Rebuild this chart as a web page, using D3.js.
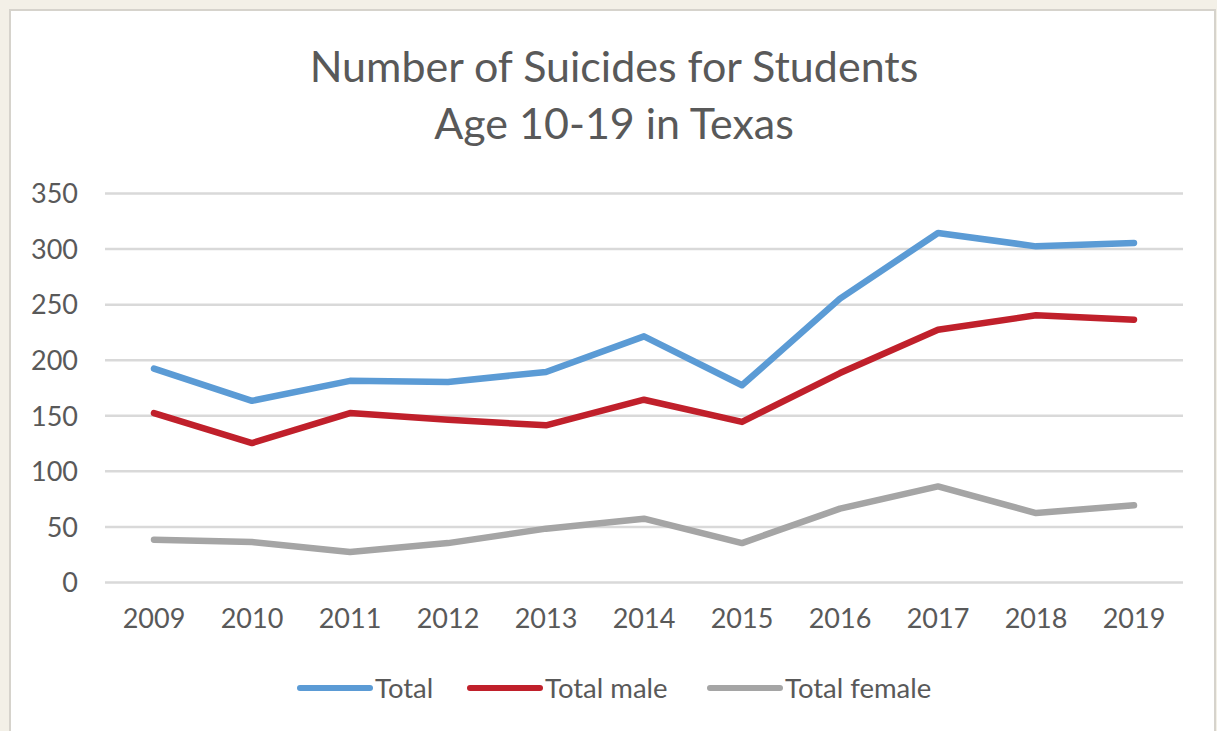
<!DOCTYPE html>
<html>
<head>
<meta charset="utf-8">
<script src="https://cdn.jsdelivr.net/npm/d3@7"></script>
<style>
  body { margin: 0; background: #f3f0e7; }
  svg { display: block; }
  .grid line { stroke: #d9d9d9; stroke-width: 2.5; }
  .grid path { display: none; }
  .axis path, .axis line { display: none; }
  .axis text { font-family: Lato, sans-serif; font-size: 27px; fill: #595959; }
  .line { fill: none; stroke-width: 6.5; stroke-linejoin: round; stroke-linecap: round; }
</style>
</head>
<body>
<div id="chart"></div>
<script>
var years = ["2009", "2010", "2011", "2012", "2013", "2014", "2015", "2016", "2017", "2018", "2019"];
var totalVals = [192, 163, 181, 180, 189, 221, 177, 255, 314, 302, 305];
var maleVals = [152, 125, 152, 146, 141, 164, 144, 188, 227, 240, 236];
var femaleVals = [38, 36, 27, 35, 48, 57, 35, 66, 86, 62, 69];
var yTicks = [0, 50, 100, 150, 200, 250, 300, 350];
var seriesNames = ["Total", "Total male", "Total female"];
var seriesColors = ["#5b9bd5", "#c0202b", "#a5a5a5"];

var drawChart = function() {
  var W = 1217, H = 731;
  var margin = { top: 193, right: 34, bottom: 149, left: 105 },
  width = W - margin.left - margin.right,
  height = H - margin.top - margin.bottom;

  var svg = d3.select("#chart").append("svg")
    .attr("width", W)
    .attr("height", H);

  // white chart panel on the beige page
  svg.append("rect")
    .attr("x", 10).attr("y", 10)
    .attr("width", 1205).attr("height", 730)
    .attr("fill", "#ffffff")
    .attr("stroke", "#d6d3cc")
    .attr("stroke-width", 2);

  var g = svg.append("g")
    .attr("transform", "translate(" + margin.left + "," + margin.top + ")");

  var x = d3.scaleBand()
    .domain(years)
    .range([0, width]);

  var y = d3.scaleLinear()
    .domain([0, 350])
    .range([height, 0]);

  g.append("g")
    .attr("class", "grid")
    .call(d3.axisLeft(y).tickValues(yTicks).tickSize(-width).tickFormat(""));

  g.append("g")
    .attr("class", "axis")
    .call(d3.axisLeft(y).tickValues(yTicks).tickSize(0).tickPadding(27))
    .selectAll("text")
    .attr("dy", "0.36em");

  g.append("g")
    .attr("class", "axis")
    .attr("transform", "translate(0," + height + ")")
    .call(d3.axisBottom(x).tickSize(0).tickPadding(27));

  var series = [totalVals, maleVals, femaleVals];
  var line = d3.line()
    .x(function(d, i) { return x(years[i]) + x.bandwidth() / 2; })
    .y(function(d) { return y(d); });

  // draw female first so blue sits on top
  [2, 1, 0].forEach(function(k) {
    g.append("path")
      .attr("class", "line")
      .attr("stroke", seriesColors[k])
      .attr("d", line(series[k]));
  });

  svg.append("text")
    .attr("x", 614)
    .attr("y", 82)
    .style("text-anchor", "middle")
    .style("font-family", "Lato, sans-serif")
    .style("font-size", "43px")
    .style("fill", "#595959")
    .text("Number of Suicides for Students");

  svg.append("text")
    .attr("x", 614)
    .attr("y", 139)
    .style("text-anchor", "middle")
    .style("font-family", "Lato, sans-serif")
    .style("font-size", "43px")
    .style("fill", "#595959")
    .text("Age 10-19 in Texas");

  var legendX = [300, 470, 710];
  var legend = svg.append("g").attr("transform", "translate(0,688)");
  seriesNames.forEach(function(name, k) {
    legend.append("line")
      .attr("x1", legendX[k]).attr("x2", legendX[k] + 70)
      .attr("y1", 0).attr("y2", 0)
      .attr("stroke", seriesColors[k])
      .attr("stroke-width", 6)
      .attr("stroke-linecap", "round");
    legend.append("text")
      .attr("x", legendX[k] + 75)
      .attr("y", 0)
      .attr("dy", "0.36em")
      .style("font-family", "Lato, sans-serif")
      .style("font-size", "27.5px")
      .style("fill", "#595959")
      .text(name);
  });
};

drawChart();
</script>
</body>
</html>
